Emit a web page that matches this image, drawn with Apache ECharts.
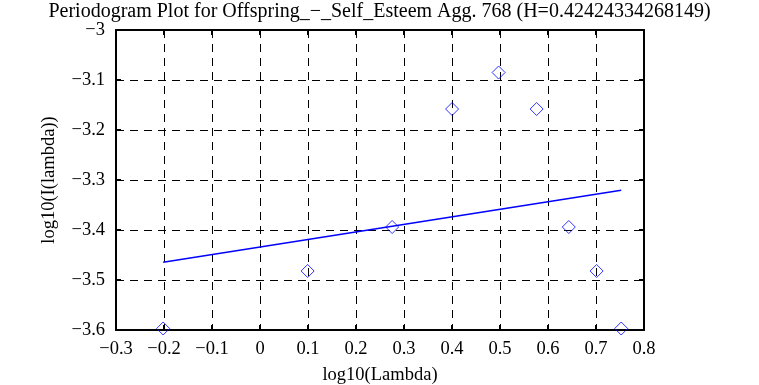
<!DOCTYPE html>
<html>
<head>
<meta charset="utf-8">
<script src="https://cdn.jsdelivr.net/npm/echarts@6/dist/echarts.min.js"></script>
<style>html,body{margin:0;padding:0;background:#fff;}#c{width:759px;height:385px;}</style>
</head>
<body>
<div id="c"></div>
<script>
var titleText = 'Periodogram Plot for Offspring_\u2212_Self_Esteem Agg. 768 (H=0.42424334268149)';
var xName = 'log10(Lambda)';
var yName = 'log10(I(lambda))';
var logLambda = [-0.2018, 0.0992, 0.2753, 0.4002, 0.4971, 0.5763, 0.6433, 0.7013, 0.7525];
var logI = [-3.597, -3.482, -3.394, -3.158, -3.085, -3.158, -3.394, -3.482, -3.597];
var fitX = [-0.2018, 0.7525];
var fitY = [-3.4646, -3.3206];
var xTicks = {min: -0.3, max: 0.8, interval: 0.1};
var yTicks = {min: -3.6, max: -3.0, interval: 0.1};

var FONT = '"Liberation Serif", "DejaVu Serif", serif';
function fmt(v) {
  var s = (Math.round(v * 10) / 10).toString();
  return s.replace('-', '\u2212');
}
var chart = echarts.init(document.getElementById('c'), null, {renderer: 'canvas'});
var axisLine = {show: true, onZero: false, lineStyle: {color: '#000', width: 2}};
var tick = {show: true, inside: true, length: 5, lineStyle: {color: '#000', width: 2}};
var split = {show: true, lineStyle: {color: '#000', type: [8, 6], width: 1}};
chart.setOption({
  animation: false,
  backgroundColor: '#fff',
  title: {text: titleText, left: 'center', top: -3,
    textStyle: {fontFamily: FONT, fontWeight: 'normal', fontSize: 20, color: '#000'}},
  grid: {left: 116, right: 115, top: 30, bottom: 55, outerBoundsMode: 'none', containLabel: false},
  xAxis: [{
    type: 'value', min: xTicks.min, max: xTicks.max, interval: xTicks.interval,
    name: xName, nameLocation: 'middle', nameGap: 36,
    nameTextStyle: {fontFamily: FONT, fontSize: 18.5, color: '#000'},
    axisLine: axisLine, axisTick: tick, splitLine: split,
    axisLabel: {fontFamily: FONT, fontSize: 18.5, color: '#000', margin: 10, formatter: function (v) { return fmt(v); }}
  }, {
    type: 'value', position: 'top', min: xTicks.min, max: xTicks.max, interval: xTicks.interval,
    axisLine: axisLine, axisTick: tick, splitLine: {show: false}, axisLabel: {show: false}
  }],
  yAxis: [{
    type: 'value', min: yTicks.min, max: yTicks.max, interval: yTicks.interval,
    name: yName, nameLocation: 'middle', nameGap: 57, nameRotate: 90,
    nameTextStyle: {fontFamily: FONT, fontSize: 18.5, color: '#000'},
    axisLine: axisLine, axisTick: tick, splitLine: split,
    axisLabel: {fontFamily: FONT, fontSize: 18.5, color: '#000', margin: 11, formatter: function (v) { return fmt(v); }}
  }, {
    type: 'value', position: 'right', min: yTicks.min, max: yTicks.max, interval: yTicks.interval,
    axisLine: axisLine, axisTick: tick, splitLine: {show: false}, axisLabel: {show: false}
  }],
  series: [{
    type: 'scatter', clip: false, symbol: 'diamond', symbolSize: 13,
    data: logLambda.map(function (x, i) { return [x, logI[i]]; }),
    itemStyle: {color: 'rgba(0,0,0,0)', borderColor: '#0000ff', borderWidth: 1},
    z: 5
  }, {
    type: 'line', showSymbol: false, symbol: 'none',
    data: fitX.map(function (x, i) { return [x, fitY[i]]; }),
    lineStyle: {color: '#0000ff', width: 1.5},
    z: 4
  }]
});
</script>
</body>
</html>
